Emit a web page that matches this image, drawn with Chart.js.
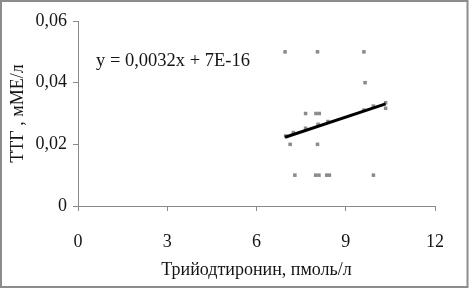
<!DOCTYPE html>
<html><head><meta charset="utf-8">
<script src="https://cdn.jsdelivr.net/npm/chart.js@4/dist/chart.umd.min.js"></script>
<style>html,body{margin:0;padding:0;background:#fff}#w{position:relative;width:472px;height:288px}</style>
</head><body><div id="w"><canvas id="c" width="472" height="288"></canvas></div>
<script>
const xValues = [6.96, 8.05, 9.61, 9.65, 7.65, 8.00, 8.11, 6.98, 7.13, 8.05, 7.29, 7.99, 8.10, 8.36, 8.45, 9.93, 10.34, 10.34, 7.24, 7.65, 8.07, 8.40, 9.61, 9.93];
const yValues = [0.050, 0.050, 0.050, 0.040, 0.030, 0.030, 0.030, 0.0227, 0.020, 0.020, 0.010, 0.010, 0.010, 0.010, 0.010, 0.010, 0.0317, 0.0335, 0.0238, 0.0252, 0.0265, 0.0274, 0.0311, 0.0324];
const trendX = [6.96, 10.34];
const trendY = [0.0223, 0.0331];
const yTickLabels = ['0', '0,02', '0,04', '0,06'];
const xTickLabels = ['0', '3', '6', '9', '12'];
const equationText = 'y = 0,0032x + 7E-16';
const xTitle = 'Трийодтиронин, пмоль/л';
const yTitle = 'ТТГ , мМЕ/л';

const FONT = "'Liberation Serif', 'Times New Roman', serif";
const AX = '#8a8a8a';
const TXT = '#141414';

const framePlugin = {
  id: 'frame',
  afterDraw(chart) {
    const ctx = chart.ctx;
    ctx.save();
    ctx.strokeStyle = '#8c8c8c';
    ctx.lineWidth = 2;
    ctx.strokeRect(1, 1, 466.5, 286);
    ctx.fillStyle = TXT;
    ctx.font = "18.5px " + FONT;
    ctx.textBaseline = 'middle';
    ctx.textAlign = 'left';
    ctx.fillText(equationText, 96, 61);
    ctx.restore();
  }
};

new Chart(document.getElementById('c'), {
  type: 'scatter',
  data: {
    datasets: [
      {
        data: xValues.map((x, i) => ({x, y: yValues[i]})),
        pointStyle: 'rect', pointRadius: 2.5, backgroundColor: '#8a8a8a', borderWidth: 0, order: 2
      },
      {
        type: 'line',
        data: trendX.map((x, i) => ({x, y: trendY[i]})),
        borderColor: '#000', borderWidth: 3, pointRadius: 0, fill: false, order: 1
      }
    ]
  },
  plugins: [framePlugin],
  options: {
    responsive: false, animation: false,
    layout: { padding: { top: 21, right: 37, left: 0, bottom: 0 } },
    plugins: { legend: { display: false }, tooltip: { enabled: false } },
    scales: {
      x: {
        type: 'linear', min: 0, max: 12,
        afterFit(s) { s.height = 82; },
        ticks: { stepSize: 3, padding: 20, color: TXT, font: { family: FONT, size: 18 },
          callback: (v) => xTickLabels[Math.round(v / 3)] },
        grid: { drawOnChartArea: false, drawTicks: true, tickLength: 5, color: AX },
        border: { color: AX, width: 1 },
        title: { display: true, text: xTitle, color: TXT, font: { family: FONT, size: 18 }, padding: { top: 0, bottom: 7 } }
      },
      y: {
        min: 0, max: 0.06,
        afterFit(s) { s.width = 78; },
        ticks: { stepSize: 0.02, padding: 6, color: TXT, font: { family: FONT, size: 18 },
          callback: (v) => yTickLabels[Math.round(v / 0.02)] },
        grid: { drawOnChartArea: false, drawTicks: true, tickLength: 5, color: AX },
        border: { color: AX, width: 1 },
        title: { display: true, text: yTitle, color: TXT, font: { family: FONT, size: 18 }, padding: { top: 7, bottom: 0 } }
      }
    }
  }
});
</script></body></html>
